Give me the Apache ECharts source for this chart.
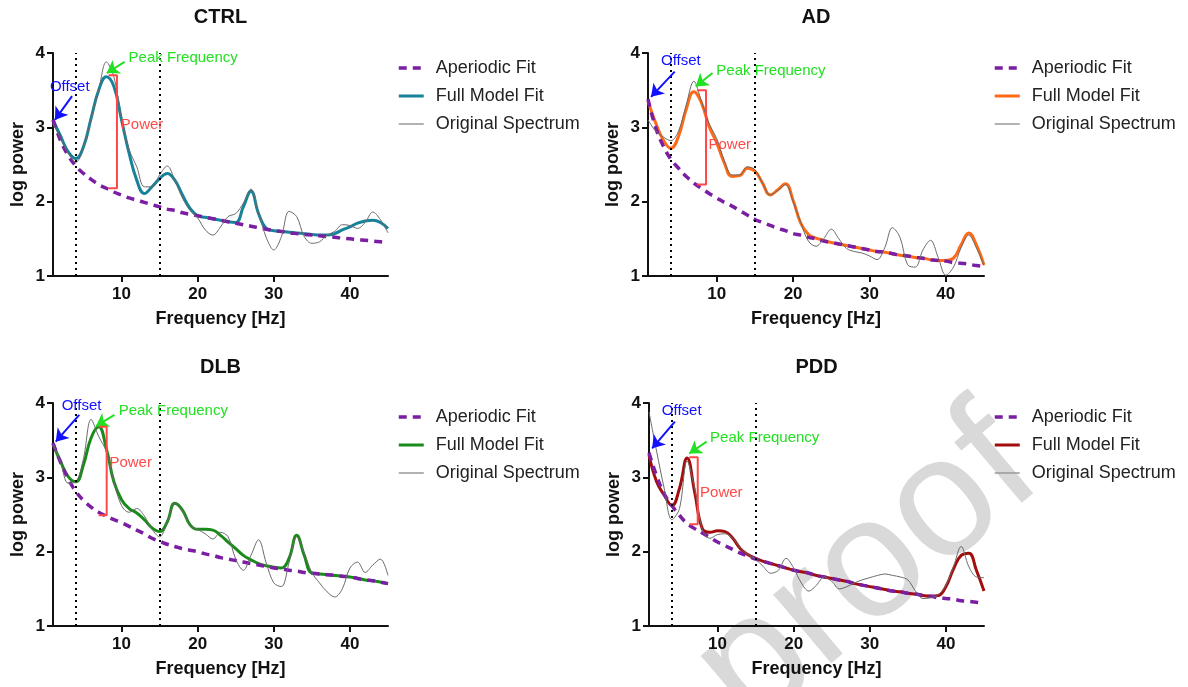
<!DOCTYPE html>
<html><head><meta charset="utf-8">
<script src="https://cdn.jsdelivr.net/npm/echarts@6/dist/echarts.min.js"></script>
<style>html,body{margin:0;padding:0;background:#fff}#c{width:1188px;height:687px}</style>
</head><body><div id="c"></div>
<script>
// ---------------- data ----------------
const freq = [1,2,3,4,5,6,7,8,9,10,11,12,13,14,15,16,17,18,19,20,21,22,23,24,25,26,27,28,29,30,31,32,33,34,35,36,37,38,39,40,41,42,43,44,45];
const panelTitles = ['CTRL', 'AD', 'DLB', 'PDD'];
const legendNames = ['Aperiodic Fit', 'Full Model Fit', 'Original Spectrum'];
const xTickValues = [10, 20, 30, 40];
const bandEdges = [4, 15];

const ctrlAper = [3.10,2.82,2.62,2.48,2.38,2.30,2.23,2.18,2.13,2.09, 2.05,2.02,1.99,1.96,1.93,1.90,1.88,1.85,1.83,1.81, 1.79,1.77,1.75,1.73,1.71,1.69,1.67,1.65,1.63,1.61, 1.60,1.58,1.57,1.56,1.55,1.54,1.53,1.52,1.51,1.50, 1.49,1.48,1.47,1.46,1.45];
const ctrlFull = [3.10,2.88,2.67,2.58,2.74,3.12,3.50,3.68,3.55,3.10, 2.65,2.29,2.11,2.20,2.31,2.38,2.29,2.09,1.91,1.81, 1.79,1.77,1.75,1.73,1.72,1.93,2.14,1.84,1.64,1.61, 1.60,1.59,1.58,1.57,1.56,1.55,1.55,1.57,1.62,1.66, 1.71,1.74,1.75,1.72,1.64];
const ctrlOrig = [3.05,2.85,2.65,2.53,2.72,3.10,3.50,3.88,3.68,3.12, 2.70,2.47,2.20,2.20,2.36,2.48,2.29,2.05,1.88,1.78, 1.62,1.55,1.66,1.80,1.84,1.98,2.17,1.85,1.52,1.35, 1.53,1.87,1.80,1.53,1.44,1.46,1.55,1.60,1.69,1.68, 1.64,1.72,1.86,1.76,1.58];

const adAper = [3.38,3.00,2.75,2.57,2.45,2.34,2.25,2.18,2.11,2.05, 1.99,1.94,1.88,1.82,1.76,1.72,1.68,1.64,1.61,1.57, 1.55,1.52,1.50,1.47,1.45,1.43,1.41,1.39,1.37,1.35, 1.33,1.32,1.30,1.28,1.27,1.25,1.24,1.22,1.21,1.20, 1.18,1.17,1.16,1.14,1.13];
const adFull = [3.35,3.06,2.83,2.72,2.88,3.24,3.48,3.33,3.01,2.79, 2.52,2.34,2.35,2.45,2.41,2.25,2.09,2.16,2.24,2.02, 1.71,1.56,1.51,1.48,1.45,1.43,1.41,1.39,1.37,1.35, 1.33,1.32,1.30,1.28,1.27,1.25,1.24,1.22,1.21,1.21, 1.24,1.42,1.58,1.42,1.15];
const adOrig = [3.10,2.95,2.87,2.82,2.95,3.30,3.62,3.35,3.05,2.85, 2.55,2.36,2.36,2.47,2.43,2.25,2.09,2.15,2.23,2.00, 1.72,1.47,1.40,1.50,1.63,1.50,1.37,1.33,1.31,1.27, 1.22,1.38,1.65,1.52,1.15,1.12,1.35,1.48,1.25,1.01, 1.12,1.38,1.55,1.38,1.14];

const dlbAper = [3.46,3.20,2.98,2.81,2.69,2.60,2.53,2.48,2.43,2.39, 2.34,2.29,2.24,2.18,2.14,2.10,2.07,2.04,2.02,2.00, 1.97,1.95,1.92,1.90,1.88,1.86,1.84,1.82,1.80,1.78, 1.77,1.75,1.74,1.72,1.71,1.70,1.69,1.68,1.67,1.66, 1.64,1.62,1.61,1.59,1.57];
const dlbFull = [3.45,3.21,3.01,2.94,3.17,3.53,3.68,3.39,2.94,2.70, 2.58,2.52,2.43,2.32,2.27,2.40,2.65,2.56,2.36,2.30, 2.30,2.29,2.22,2.13,2.04,1.95,1.89,1.84,1.81,1.79, 1.78,1.91,2.22,1.95,1.71,1.70,1.69,1.68,1.67,1.66, 1.64,1.62,1.61,1.59,1.57];
const dlbOrig = [3.45,3.20,2.92,2.94,3.25,3.78,3.55,3.35,2.94,2.62, 2.53,2.58,2.48,2.30,2.20,2.40,2.65,2.55,2.35,2.30, 2.24,2.17,2.26,2.20,1.90,1.75,1.95,2.16,1.85,1.58, 1.53,1.85,2.20,1.98,1.72,1.58,1.46,1.39,1.50,1.78, 1.86,1.72,1.82,1.90,1.68];

const pddAper = [3.33,3.02,2.78,2.62,2.49,2.38,2.31,2.25,2.19,2.13, 2.08,2.03,1.98,1.94,1.90,1.87,1.84,1.81,1.78,1.75, 1.73,1.71,1.68,1.66,1.64,1.62,1.60,1.57,1.55,1.53, 1.51,1.49,1.47,1.46,1.44,1.43,1.41,1.40,1.38,1.37, 1.36,1.34,1.33,1.32,1.30];
const pddFull = [3.30,2.94,2.76,2.62,2.85,3.26,2.80,2.31,2.26,2.28, 2.27,2.18,2.04,1.96,1.91,1.87,1.84,1.81,1.78,1.75, 1.73,1.71,1.68,1.66,1.64,1.62,1.60,1.57,1.55,1.53, 1.51,1.49,1.47,1.46,1.44,1.43,1.41,1.40,1.41,1.53, 1.77,1.95,1.98,1.75,1.47];
const pddOrig = [3.88,3.35,2.85,2.43,2.58,3.22,2.85,2.30,2.18,2.23, 2.24,2.18,2.05,1.96,1.90,1.80,1.71,1.75,1.91,1.78, 1.58,1.47,1.55,1.66,1.60,1.50,1.53,1.58,1.62,1.65, 1.68,1.70,1.68,1.66,1.62,1.47,1.37,1.38,1.42,1.55, 1.80,2.07,1.80,1.66,1.65];

// annotation anchors (data coordinates): text centres [Offset, Peak Frequency, Power]
const ctrlLabels = [[3.2,3.55],[18.1,3.93],[12.7,3.03]];
const adLabels   = [[5.3,3.89],[17.1,3.76],[11.7,2.77]];
const dlbLabels  = [[4.75,3.96],[16.8,3.89],[11.2,3.19]];
const pddLabels  = [[5.3,3.89],[16.2,3.53],[10.5,2.79]];
// arrows [fromX, fromY, toX, toY]: Offset arrow, Peak arrow
const ctrlArrows = [[3.5,3.42,1.25,3.10],[10.4,3.88,8.06,3.73]];
const adArrows   = [[4.5,3.75,1.4,3.41],[9.45,3.73,7.25,3.55]];
const dlbArrows  = [[4.45,3.84,1.36,3.48],[9.07,3.84,6.65,3.69]];
const pddArrows  = [[4.4,3.75,1.41,3.39],[8.57,3.48,6.29,3.32]];
// power brackets
const ctrlBracket = [[8.3,3.70],[9.4,3.70],[9.4,2.18],[8.3,2.18]];
const adBracket   = [[7.4,3.50],[8.6,3.50],[8.6,2.23],[7.4,2.23]];
const dlbBracket  = [[7.0,3.68],[8.05,3.68],[8.05,2.49],[7.0,2.49]];
const pddBracket  = [[6.3,3.27],[7.4,3.27],[7.4,2.37],[6.3,2.37]];

// ---------------- styling / layout ----------------
const aperColor = '#7a1ea3';
const origColor = '#6a6a6a';
const fitColors = ['#17839a', '#ff6a16', '#1a8a1a', '#a30d0d'];
const annColors = ['#1111ff', '#22e022', '#ff4a4a'];
const annTexts = ['Offset', 'Peak Frequency', 'Power'];
const FONT = 'Liberation Sans, Arial, sans-serif';

const grids = [
  {left: 53, top: 53, width: 335, height: 223},
  {left: 648, top: 53, width: 336, height: 223},
  {left: 53, top: 403, width: 335, height: 223},
  {left: 649, top: 403, width: 335, height: 223}
];
const legendPos = [[397, 59], [993, 59], [397, 408], [993, 408]];

const panels = [
  {aper: ctrlAper, full: ctrlFull, orig: ctrlOrig, labels: ctrlLabels, arrows: ctrlArrows, bracket: ctrlBracket},
  {aper: adAper, full: adFull, orig: adOrig, labels: adLabels, arrows: adArrows, bracket: adBracket},
  {aper: dlbAper, full: dlbFull, orig: dlbOrig, labels: dlbLabels, arrows: dlbArrows, bracket: dlbBracket},
  {aper: pddAper, full: pddFull, orig: pddOrig, labels: pddLabels, arrows: pddArrows, bracket: pddBracket}
];

const pairs = arr => freq.map((f, i) => [f, arr[i]]);
const hiddenSymbol = {color: 'rgba(0,0,0,0)', opacity: 0, borderWidth: 0};

const option = {
  animation: false,
  textStyle: {fontFamily: FONT},
  title: panelTitles.map((t, i) => ({
    text: t,
    left: grids[i].left + grids[i].width / 2,
    top: grids[i].top - 46,
    textAlign: 'center',
    padding: 0,
    textStyle: {fontSize: 20, fontWeight: 'bold', color: '#111', fontFamily: FONT}
  })),
  grid: grids,
  legend: panels.map((p, i) => ({
    orient: 'vertical',
    left: legendPos[i][0],
    top: legendPos[i][1],
    itemWidth: 25,
    itemHeight: 12,
    itemGap: 10,
    padding: 0,
    selectedMode: false,
    textStyle: {fontSize: 18, color: '#222', fontFamily: FONT, padding: [0, 0, 0, 7]},
    data: [
      {name: legendNames[0], lineStyle: {color: aperColor, type: [8, 6], width: 3.5}, itemStyle: hiddenSymbol},
      {name: legendNames[1], lineStyle: {color: fitColors[i], width: 3}, itemStyle: hiddenSymbol},
      {name: legendNames[2], lineStyle: {color: '#999', width: 1.5}, itemStyle: hiddenSymbol}
    ]
  })),
  xAxis: grids.map((g, i) => ({
    type: 'value', gridIndex: i, min: 1, max: 45,
    name: 'Frequency [Hz]', nameLocation: 'middle', nameGap: 34,
    nameTextStyle: {fontSize: 18, fontWeight: 'bold', color: '#111', fontFamily: FONT},
    axisLine: {onZero: false, lineStyle: {color: '#111', width: 2}},
    axisTick: {show: true, length: 6, customValues: xTickValues, lineStyle: {color: '#111', width: 2}},
    axisLabel: {customValues: xTickValues, fontSize: 17, fontWeight: 'bold', color: '#111', margin: 10, fontFamily: FONT},
    splitLine: {show: false}
  })),
  yAxis: grids.map((g, i) => ({
    type: 'value', gridIndex: i, min: 1, max: 4, interval: 1,
    name: 'log power', nameLocation: 'middle', nameGap: 26, nameRotate: 90,
    nameTextStyle: {fontSize: 18, fontWeight: 'bold', color: '#111', fontFamily: FONT},
    axisLine: {show: true, onZero: false, lineStyle: {color: '#111', width: 2}},
    axisTick: {show: true, length: 6, lineStyle: {color: '#111', width: 2}},
    axisLabel: {fontSize: 17, fontWeight: 'bold', color: '#111', margin: 8, fontFamily: FONT},
    splitLine: {show: false}
  })),
  graphic: [{
    type: 'text', x: 868, y: 571, rotation: 0.70, z: -100, silent: true,
    style: {text: 'proof', font: '170px Liberation Sans, Arial, sans-serif', fill: '#d9d9d9', align: 'center', verticalAlign: 'middle'}
  }],
  series: []
};

panels.forEach((p, i) => {
  option.series.push({
    name: legendNames[1], type: 'line', xAxisIndex: i, yAxisIndex: i,
    data: pairs(p.full), smooth: 0.45, showSymbol: false, symbol: 'none',
    lineStyle: {color: fitColors[i], width: 3}, itemStyle: {color: fitColors[i]}, z: 2
  });
  option.series.push({
    name: legendNames[0], type: 'line', xAxisIndex: i, yAxisIndex: i,
    data: pairs(p.aper), smooth: 0.5, showSymbol: false, symbol: 'none',
    lineStyle: {color: aperColor, width: 3.5, type: [8, 6]}, itemStyle: {color: aperColor}, z: 3,
    markLine: {
      silent: true, symbol: 'none', label: {show: false},
      lineStyle: {color: '#000', width: 2, type: [2, 4]},
      data: bandEdges.map(v => ({xAxis: v}))
    }
  });
  option.series.push({
    name: legendNames[2], type: 'line', xAxisIndex: i, yAxisIndex: i,
    data: pairs(p.orig), smooth: 0.35, showSymbol: false, symbol: 'none',
    lineStyle: {color: origColor, width: 1}, itemStyle: {color: origColor}, z: 4
  });
  option.series.push({
    name: 'Power bracket', type: 'line', xAxisIndex: i, yAxisIndex: i,
    data: p.bracket, smooth: false, showSymbol: false, symbol: 'none',
    lineStyle: {color: '#ff4747', width: 2}, z: 5,
    markLine: {
      silent: true, symbol: ['none', 'arrow'], symbolSize: 12, label: {show: false},
      data: p.arrows.map((a, k) => [
        {coord: [a[0], a[1]], lineStyle: {color: annColors[k], width: 2, type: 'solid'}, itemStyle: {color: annColors[k]}},
        {coord: [a[2], a[3]]}
      ])
    },
    markPoint: {
      silent: true,
      data: p.labels.map((c, k) => ({
        coord: c, symbol: 'circle', symbolSize: 1, itemStyle: {color: 'rgba(0,0,0,0)'},
        label: {show: true, position: 'inside', formatter: annTexts[k], color: annColors[k], fontSize: 15, fontFamily: FONT}
      }))
    }
  });
});

const chart = echarts.init(document.getElementById('c'), null, {renderer: 'canvas'});
chart.setOption(option);
</script>
</body></html>
